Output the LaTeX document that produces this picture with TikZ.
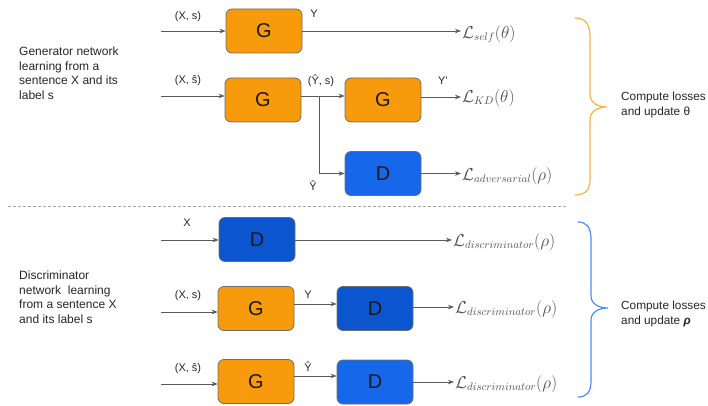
\documentclass[tikz,border=0pt]{standalone}
\usepackage{fontspec}
\setmainfont{Liberation Sans}
\usepackage{amsmath,amssymb,bm}
\usetikzlibrary{arrows.meta,calc}
\definecolor{gorange}{HTML}{F79A0B}
\definecolor{dblue}{HTML}{0B56CF}
\definecolor{lblue}{HTML}{1767EA}
\definecolor{edgegray}{HTML}{5A5A5A}
\definecolor{boxline}{HTML}{6E6E6E}
\definecolor{losstext}{HTML}{505050}
\definecolor{braceorange}{HTML}{F8B04A}
\definecolor{braceblue}{HTML}{4B8EF0}
\begin{document}
\begin{tikzpicture}[x=1pt,y=-1pt,
  netbox/.style={draw=boxline,line width=0.8pt,rounded corners=6pt,minimum width=76pt,minimum height=44pt,inner sep=0pt,font=\fontsize{20}{22}\selectfont,text=black!90},
  gbox/.style={netbox,fill=gorange},
  dbox/.style={netbox,fill=dblue},
  lbox/.style={netbox,fill=lblue},
  conn/.style={draw=edgegray,line width=0.7pt},
  arr/.style={conn,-{Stealth[length=6pt,width=4.5pt]}},
  losslab/.style={anchor=west,inner sep=1pt,text=losstext,font=\fontsize{16}{18}\selectfont},
  edgelab/.style={inner sep=0pt,font=\fontsize{11}{13}\selectfont,text=black!85},
  sidetext/.style={anchor=north west,align=left,inner sep=0pt,font=\fontsize{12}{14.4}\selectfont,text=black!85},
  ctext/.style={anchor=north west,align=left,inner sep=0pt,font=\fontsize{11.8}{14.4}\selectfont,text=black!85},
  brace/.style={line width=1.2pt,line cap=round}
]
\useasboundingbox (0,0) rectangle (708,406);

% ---------- generator part ----------
\node[sidetext] (gtext) at (19,47) {Generator network\\learning from a\\sentence X and its\\label s};

\node[gbox] (g1) at (264,31) {G};
\node[gbox] (g2) at (263,100) {G};
\node[gbox] (g3) at (383,100) {G};
\node[lbox] (d1) at (383,173.5) {D};

\coordinate (in1) at (161,31);
\coordinate (in2) at (161,96);
\coordinate (br) at (319,96);

\node[losslab] (lself) at (461,34) {$\mathcal{L}_{self}(\theta)$};
\node[losslab] (lkd) at (461,98) {$\mathcal{L}_{KD}(\theta)$};
\node[losslab] (ladv) at (461,176) {$\mathcal{L}_{adversarial}(\rho)$};

\draw[arr] (in1) -- (in1 -| g1.west);
\draw[arr] (g1.east |- in1) -- (in1 -| lself.west);
\draw[arr] (in2) -- (in2 -| g2.west);
\draw[conn] (g2.east |- br) -- (br);
\draw[arr] (br) -- (br -| g3.west);
\draw[arr] (br) |- (d1.west);
\draw[arr] (g3.east |- 0,97) -- (lkd.west |- 0,97);
\draw[arr] (d1.east) -- (ladv.west |- d1.east);

\node[edgelab] (l1) at (188,17) {(X, s)};
\node[edgelab] (l2) at (314,14) {Y};
\node[edgelab] (l3) at (188,81) {(X, ŝ)};
\node[edgelab] (l4) at (321,81) {(Ŷ, s)};
\node[edgelab] (l5) at (443,81) {Y'};
\node[edgelab] (l6) at (313,186) {Ŷ};

\draw[brace,braceorange] (575,18) .. controls (585,18) and (590,24) .. (590,36)
  -- (590,94) .. controls (590,103) and (598,107) .. (607,107)
  .. controls (598,107) and (590,111) .. (590,120)
  -- (590,180) .. controls (590,190) and (585,195) .. (575,195);
\node[ctext] (ctext1) at (621,92) {Compute losses\\and update θ};

% ---------- separator ----------
\draw[gray!70,line width=0.8pt,dash pattern=on 3pt off 2pt] (8,206) -- (567,206);

% ---------- discriminator part ----------
\node[sidetext] (dtext) at (19,271) {Discriminator\\network\ \ learning\\from a sentence X\\and its label s};

\node[dbox] (d2) at (257,239.5) {D};
\node[gbox] (g4) at (256,308.5) {G};
\node[dbox] (d3) at (375,308.5) {D};
\node[gbox] (g5) at (256,381.5) {G};
\node[lbox] (d4) at (375,382) {D};

\coordinate (in3) at (161,240);
\coordinate (in4) at (161,312);
\coordinate (in5) at (161,384);

\node[losslab] (ld1) at (452,242) {$\mathcal{L}_{discriminator}(\rho)$};
\node[losslab] (ld2) at (454,309) {$\mathcal{L}_{discriminator}(\rho)$};
\node[losslab] (ld3) at (454,384) {$\mathcal{L}_{discriminator}(\rho)$};

\draw[arr] (in3) -- (in3 -| d2.west);
\draw[arr] (d2.east |- in3) -- (in3 -| ld1.west);
\draw[arr] (in4) -- (in4 -| g4.west);
\draw[arr] (g4.east |- 0,304) -- (d3.west |- 0,304);
\draw[arr] (d3.east |- 0,307) -- (ld2.west |- 0,307);
\draw[arr] (in5) -- (in5 -| g5.west);
\draw[arr] (g5.east |- 0,376) -- (d4.west |- 0,376);
\draw[arr] (d4.east |- 0,382) -- (ld3.west |- 0,382);

\node[edgelab] (l7) at (187,223) {X};
\node[edgelab] (l8) at (188,296) {(X, s)};
\node[edgelab] (l9) at (308,295) {Y};
\node[edgelab] (l10) at (188,369) {(X, ŝ)};
\node[edgelab] (l11) at (308,367) {Ŷ};

\draw[brace,braceblue] (578,222) .. controls (587,222) and (591,228) .. (591,239)
  -- (591,296) .. controls (591,304) and (599,308) .. (608,308)
  .. controls (599,308) and (591,312) .. (591,320)
  -- (591,381) .. controls (591,392) and (587,397) .. (578,397);
\node[ctext] (ctext2) at (621,301) {Compute losses\\and update {\bfseries\itshape ρ}};
\end{tikzpicture}
\end{document}
